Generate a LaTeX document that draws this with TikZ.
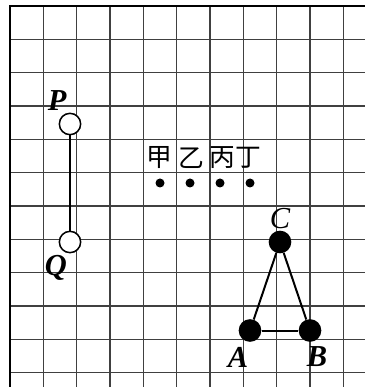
\documentclass[tikz,border=0pt]{standalone}
\usepackage{fontspec}
\setmainfont{Liberation Serif}
\newfontfamily\cjk{Noto Sans CJK SC}
\usepackage{tikz}
\usetikzlibrary{positioning}
\tikzset{ring/.style={circle,draw,line width=1.3pt,fill=white,minimum size=0.64cm,inner sep=0pt},
  ball/.style={circle,fill=black,minimum size=0.68cm,inner sep=0pt},
  pin/.style={circle,fill=black,minimum size=0.27cm,inner sep=0pt},
  lbl/.style={inner sep=0pt,font=\fontsize{26}{26}\selectfont\bfseries\itshape},
  han/.style={inner sep=0pt,font=\cjk\fontsize{22}{22}\selectfont}}

\begin{document}
\begin{tikzpicture}[x=0.9cm,y=0.885cm]
    \clip (-0.333,0.203) rectangle (11.833,-12.915);
    \draw [line width=0.9pt,black!75] (0,0) grid (12,-13);
    \draw [line width=2.4pt] (0,-13.5) -- (0,0) -- (12.5,0);

    \node[ring] (p) at (2,-4) {};
    \node[ring] (q) at (2,-8) {};
    \node[lbl] (pl) at (1.57,-3.19) {P};
    \node[lbl] (ql) at (1.53,-8.88) {Q};

    \node[pin] (d1) at (5,-6) {};
    \node[pin] (d2) at (6,-6) {};
    \node[pin] (d3) at (7,-6) {};
    \node[pin] (d4) at (8,-6) {};
    \node[han] (jia) at (4.97,-5.15) {甲};
    \node[han] (yi) at (6.03,-5.15) {乙};
    \node[han] (bing) at (7.07,-5.15) {丙};
    \node[han] (ding) at (7.93,-5.15) {丁};

    \node[ball] (a) at (8,-11) {};
    \node[ball] (b) at (10,-11) {};
    \node[ball] (c) at (9,-8) {};
    \node[lbl] (al) at (7.6,-11.9) {A};
    \node[lbl] (bl) at (10.23,-11.9) {B};
    \node[lbl,font=\fontsize{26}{26}\selectfont\itshape] (cl) at (9,-7.19) {C};

    \draw [line width=1.7pt] (p) to [] (q);
    \draw [line width=1.7pt] (a) to [] (c);
    \draw [line width=1.7pt] (b) to [] (c);
    \draw [line width=1.7pt] (a) to [] (b);
\end{tikzpicture}
\end{document}
